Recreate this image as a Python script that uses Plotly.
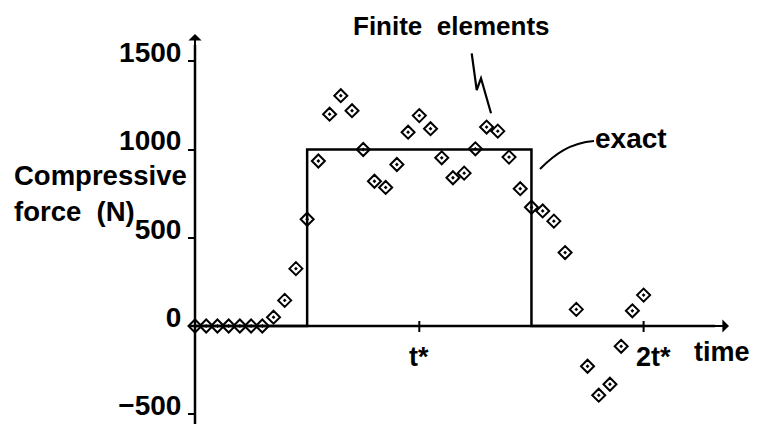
import plotly.graph_objects as go

# ---------------- data ----------------
# time in units of t*, finite element results every t*/20
fe_time = [round(i * 0.05, 2) for i in range(41)]
fe_force = [0, 0, 0, 0, 0, 0, 0,
            50, 145, 325, 605, 935, 1200, 1305, 1220, 1000,
            820, 785, 915, 1098, 1192, 1118, 953, 840, 866, 1004,
            1127, 1104, 957, 778, 673, 652, 594, 416, 94,
            -228, -392, -330, -115, 86, 175]

exact_time = [0, 0.5, 0.5, 1.5, 1.5, 2.0]
exact_force = [0, 0, 1000, 1000, 0, 0]

y_tick_vals = [-500, 0, 500, 1000, 1500]
y_tick_text = ["\u2212500", "0", "500", "1000", "1500"]
x_tick_vals = [1, 2]
x_tick_text = ["t*", "2t*"]

# ---------------- layout geometry ----------------
W, H = 758, 424
X0_PX, PX_PER_T = 195.0, 224.3
Y0_PX, PX_PER_N = 326.0, 0.1765
x_range = [-X0_PX / PX_PER_T, (W - X0_PX) / PX_PER_T]
y_range = [-(H - Y0_PX) / PX_PER_N, Y0_PX / PX_PER_N]


def px(x):
    return x / W


def py(y):
    return 1 - y / H


def ty(y_px):
    return (Y0_PX - y_px) / PX_PER_N


FONT = "Liberation Sans, Arial, sans-serif"
BLACK = "#000000"

fig = go.Figure()

fig.add_trace(go.Scatter(
    x=exact_time, y=exact_force, mode="lines",
    line=dict(color=BLACK, width=2.5), showlegend=False, hoverinfo="skip"))

fig.add_trace(go.Scatter(
    x=fe_time, y=fe_force, mode="markers",
    marker=dict(symbol="diamond-open-dot", size=10, color=BLACK,
                line=dict(color=BLACK, width=2)),
    showlegend=False))

annotations = []
# axis arrow heads
annotations.append(dict(x=0, y=ty(34), ax=0, ay=ty(60),
                        xref="x", yref="y", axref="x", ayref="y", text="",
                        showarrow=True, arrowhead=1, arrowsize=1.1, arrowwidth=2,
                        arrowcolor=BLACK, standoff=0, startstandoff=0))
annotations.append(dict(x=(729 - X0_PX) / PX_PER_T, y=0, ax=(690 - X0_PX) / PX_PER_T, ay=0,
                        xref="x", yref="y", axref="x", ayref="y", text="",
                        showarrow=True, arrowhead=1, arrowsize=1.1, arrowwidth=2,
                        arrowcolor=BLACK, standoff=0, startstandoff=0))

# x tick labels
x_label_shift = [0, 10]
for v, t, s in zip(x_tick_vals, x_tick_text, x_label_shift):
    annotations.append(dict(x=v, y=0, xref="x", yref="y", text=t, showarrow=False,
                            xanchor="center", yanchor="top", yshift=-14, xshift=s,
                            font=dict(family=FONT, size=27, color=BLACK, weight="bold")))

annotations.append(dict(x=px(722), y=py(352), xref="paper", yref="paper", text="time",
                        showarrow=False, xanchor="center", yanchor="middle",
                        font=dict(family=FONT, size=27, color=BLACK, weight="bold")))
annotations.append(dict(x=px(12), y=py(158), xref="paper", yref="paper",
                        text="Compressive<br>force  (N)", align="left",
                        showarrow=False, xanchor="left", yanchor="top",
                        font=dict(family=FONT, size=27.5, color=BLACK, weight="bold")))
annotations.append(dict(x=px(451), y=py(26), xref="paper", yref="paper",
                        text="Finite  elements", showarrow=False,
                        xanchor="center", yanchor="middle",
                        font=dict(family=FONT, size=26, color=BLACK, weight="bold")))
annotations.append(dict(x=px(593), y=py(138), xref="paper", yref="paper",
                        text="exact", showarrow=False,
                        xanchor="left", yanchor="middle",
                        font=dict(family=FONT, size=28, color=BLACK, weight="bold")))

shapes = []
# axis lines
shapes.append(dict(type="line", xref="x", yref="paper", x0=0, x1=0,
                   y0=0, y1=py(45), line=dict(color=BLACK, width=2.5)))
shapes.append(dict(type="line", xref="x", yref="y", x0=-5 / PX_PER_T,
                   x1=(715 - X0_PX) / PX_PER_T, y0=0, y1=0,
                   line=dict(color=BLACK, width=2.5)))
# tick crosses on the time axis
for v in x_tick_vals:
    shapes.append(dict(type="line", xref="x", yref="y", ysizemode="pixel", yanchor=0,
                       x0=v, x1=v, y0=-6, y1=5, line=dict(color=BLACK, width=2)))


def path(points):
    return "M " + " L ".join(f"{px(a)},{py(b)}" for a, b in points)


# leader to "Finite elements"
shapes.append(dict(type="path", xref="paper", yref="paper",
                   path=path([(471.7, 53.3), (476.7, 90), (481, 78.3), (491, 113.3)]),
                   line=dict(color=BLACK, width=2.2)))
# leader to "exact"
shapes.append(dict(type="path", xref="paper", yref="paper",
                   path=(f"M {px(540)},{py(169)} C {px(555)},{py(154)} "
                         f"{px(570)},{py(143)} {px(594)},{py(141)}"),
                   line=dict(color=BLACK, width=2)))

fig.update_layout(
    width=W, height=H,
    margin=dict(l=0, r=0, t=0, b=0),
    paper_bgcolor="white", plot_bgcolor="white",
    showlegend=False,
    xaxis=dict(range=x_range, visible=False, fixedrange=True),
    yaxis=dict(range=y_range, anchor="free", position=X0_PX / W,
               showline=False, showgrid=False, zeroline=False,
               tickmode="array", tickvals=y_tick_vals, ticktext=y_tick_text,
               ticks="outside", ticklen=7, tickwidth=2, tickcolor=BLACK,
               ticklabelshift=-9, ticklabelstandoff=1, ticklabeloverflow="allow",
               tickfont=dict(family=FONT, size=28, color=BLACK, weight="bold"),
               fixedrange=True),
    annotations=annotations,
    shapes=shapes,
)

fig.write_html("out.html")
